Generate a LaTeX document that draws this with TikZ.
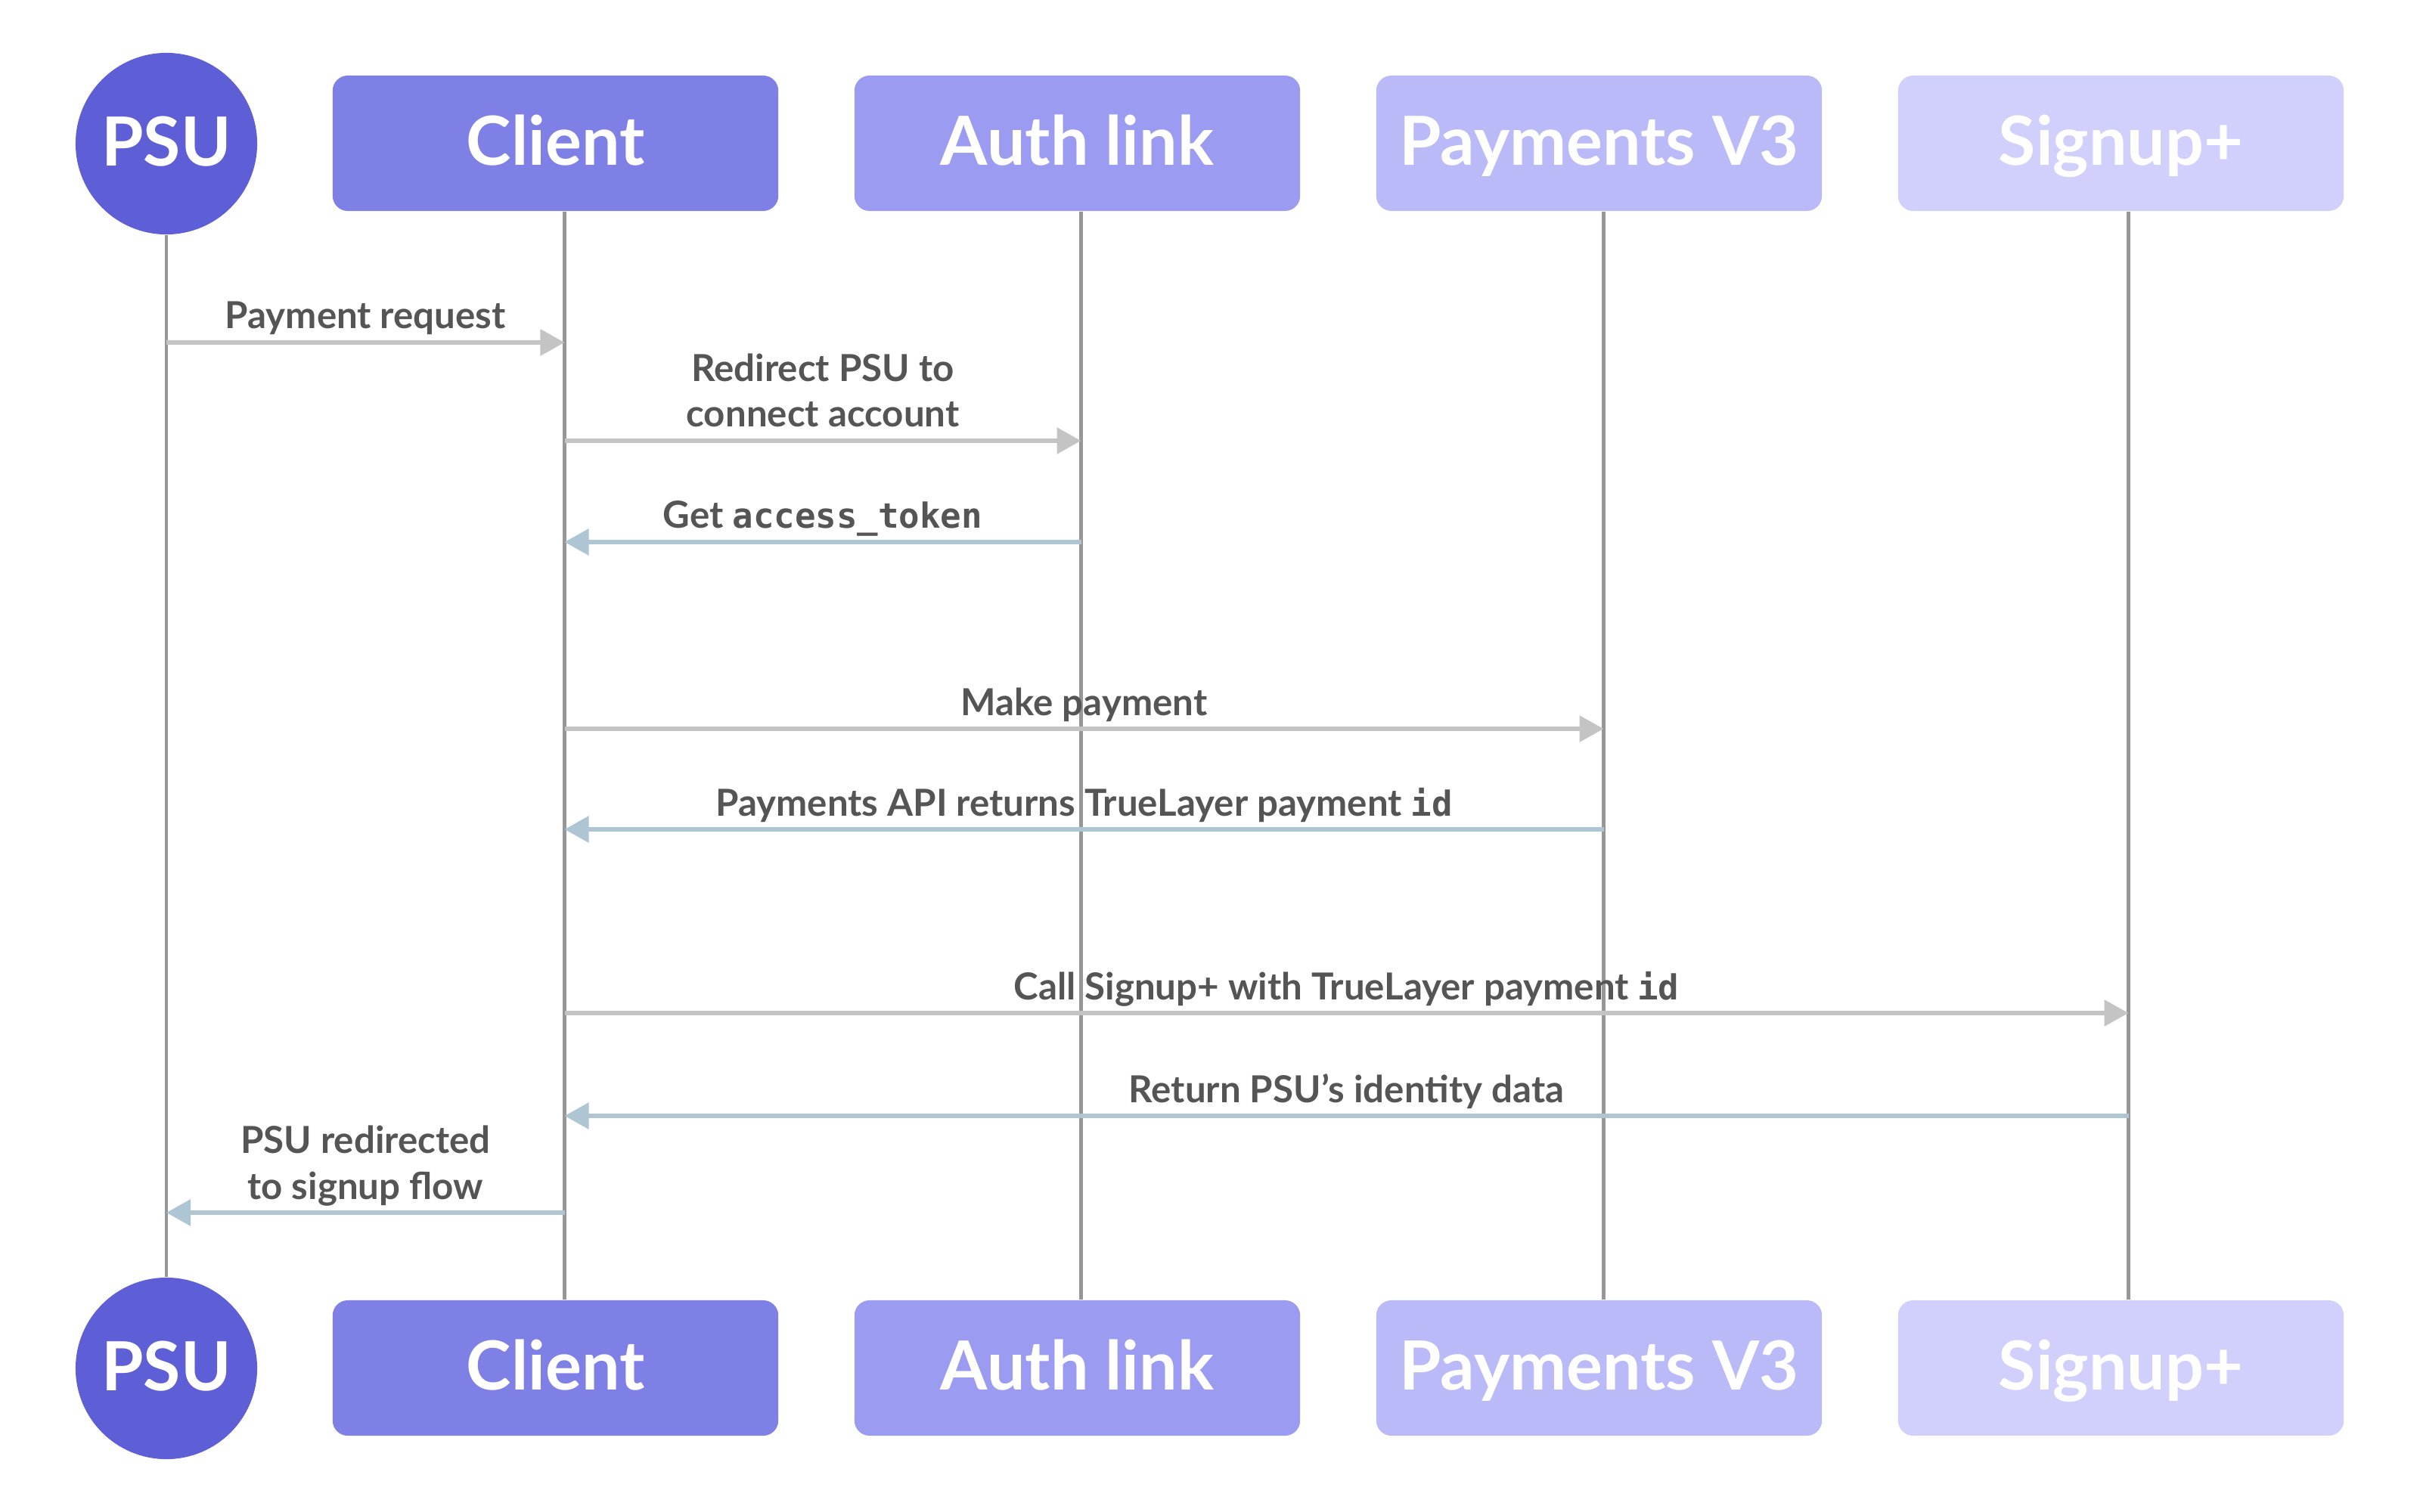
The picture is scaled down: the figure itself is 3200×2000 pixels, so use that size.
\documentclass[tikz,border=0pt]{standalone}
\usepackage{fontspec}
\setmainfont{Lato}
\setmonofont{DejaVu Sans Mono}
\usetikzlibrary{arrows.meta}
\definecolor{cPSU}{HTML}{5E5ED6}
\definecolor{cClient}{HTML}{7F80E6}
\definecolor{cAuth}{HTML}{9B9BF1}
\definecolor{cPay}{HTML}{BBBAF9}
\definecolor{cSign}{HTML}{D1CFFB}
\definecolor{cLife}{HTML}{979797}
\definecolor{cReq}{HTML}{C4C4C4}
\definecolor{cResp}{HTML}{AEC5D4}
\definecolor{cTxt}{HTML}{555555}
\newcommand{\mono}[1]{{\fontsize{13}{17}\selectfont\ttfamily #1}}
\begin{document}
\begin{tikzpicture}[x=0.01cm, y=-0.01cm,
  actor/.style={rectangle, rounded corners=0.2cm, minimum width=5.89cm, minimum height=1.79cm, inner sep=0pt, text height=0.6cm, text depth=0.02cm, text=white, font=\fontsize{25.5}{28}\selectfont\bfseries},
  person/.style={circle, minimum size=2.4cm, inner sep=0pt, text height=0.6cm, text depth=0.02cm, fill=cPSU, text=white, font=\fontsize{25.5}{28}\selectfont\bfseries},
  life/.style={draw=cLife, line width=1.35pt},
  req/.style={draw=cReq, line width=1.7pt, -{Triangle[length=0.32cm,width=0.34cm]}},
  resp/.style={draw=cResp, line width=1.7pt, -{Triangle[length=0.32cm,width=0.34cm]}},
  lbl/.style={text=cTxt, font=\fontsize{14}{17.2}\selectfont\bfseries, inner sep=0pt, align=center, anchor=base, yshift=0.18cm}
]
\useasboundingbox (0,0) rectangle (3200,2000);

% top actors
\node[person] (psuT) at (220,190) {PSU};
\node[actor, fill=cClient] (clT) at (734.5,189.5) {Client};
\node[actor, fill=cAuth] (auT) at (1424.5,189.5) {Auth link};
\node[actor, fill=cPay] (paT) at (2114.5,189.5) {Payments V3};
\node[actor, fill=cSign] (siT) at (2804.5,189.5) {Signup+};

% bottom actors
\node[person] (psuB) at (220,1810) {PSU};
\node[actor, fill=cClient] (clB) at (734.5,1809.5) {Client};
\node[actor, fill=cAuth] (auB) at (1424.5,1809.5) {Auth link};
\node[actor, fill=cPay] (paB) at (2114.5,1809.5) {Payments V3};
\node[actor, fill=cSign] (siB) at (2804.5,1809.5) {Signup+};

% lifelines
\coordinate (Lps) at (psuT.south);
\coordinate (Lcl) at ([xshift=0.12cm]clT.south);
\coordinate (Lau) at ([xshift=0.05cm]auT.south);
\coordinate (Lpa) at ([xshift=0.06cm]paT.south);
\coordinate (Lsi) at ([xshift=0.1cm]siT.south);
\draw[life] (Lps) -- (psuB.north);
\draw[life] (Lcl) -- ([xshift=0.12cm]clB.north);
\draw[life] (Lau) -- ([xshift=0.05cm]auB.north);
\draw[life] (Lpa) -- ([xshift=0.06cm]paB.north);
\draw[life] (Lsi) -- ([xshift=0.1cm]siB.north);

% message levels
\coordinate (y1) at (0,453);
\coordinate (y2) at (0,583);
\coordinate (y3) at (0,717);
\coordinate (y4) at (0,964);
\coordinate (y5) at (0,1097);
\coordinate (y6) at (0,1340);
\coordinate (y7) at (0,1476);
\coordinate (y8) at (0,1604);

% messages
\draw[req] (Lps |- y1) -- node[lbl] {Payment request} (Lcl |- y1);
\draw[req] (Lcl |- y2) -- node[lbl] {Redirect PSU to\\connect account} (Lau |- y2);
\draw[resp] (Lau |- y3) -- node[lbl] {Get \mono{access\_token}} (Lcl |- y3);
\draw[req] (Lcl |- y4) -- node[lbl] {Make payment} (Lpa |- y4);
\draw[resp] (Lpa |- y5) -- node[lbl] {Payments API returns TrueLayer payment \mono{id}} (Lcl |- y5);
\draw[req] (Lcl |- y6) -- node[lbl] {Call Signup+ with TrueLayer payment \mono{id}} (Lsi |- y6);
\draw[resp] (Lsi |- y7) -- node[lbl] {Return PSU’s identity data} (Lcl |- y7);
\draw[resp] (Lcl |- y8) -- node[lbl] {PSU redirected\\to signup flow} (Lps |- y8);
\end{tikzpicture}
\end{document}
